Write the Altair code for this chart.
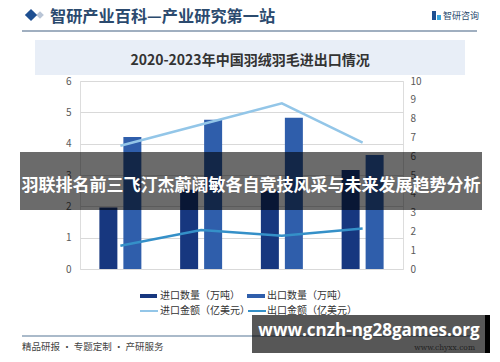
import altair as alt
import pandas as pd

# ---- data ----
years = ["2020年", "2021年", "2022年", "2023年"]
import_qty = [1.96, 2.53, 2.50, 3.16]      # 进口数量（万吨） left axis
export_qty = [4.21, 4.76, 4.83, 3.64]      # 出口数量（万吨） left axis
import_val = [6.56, 7.69, 8.81, 6.72]      # 进口金额（亿美元） right axis
export_val = [1.24, 2.07, 1.77, 2.16]      # 出口金额（亿美元） right axis
left_ticks = [0, 1, 2, 3, 4, 5, 6]
right_ticks = [0, 1, 2, 3, 4, 5, 6, 7, 8, 9, 10]
bar_series = ["进口数量（万吨）", "出口数量（万吨）"]
line_series = ["进口金额（亿美元）", "出口金额（亿美元）"]

FONT = "Noto Sans CJK SC"
C_IMP_Q, C_EXP_Q = "#17377f", "#2f5eab"
C_IMP_V, C_EXP_V = "#93c6e8", "#3590c8"

bars_df = pd.DataFrame({
    "year": years * 2,
    "series": [bar_series[0]] * 4 + [bar_series[1]] * 4,
    "value": import_qty + export_qty,
})
lines_df = pd.DataFrame({
    "year": years * 2,
    "series": [line_series[0]] * 4 + [line_series[1]] * 4,
    "value": import_val + export_val,
})

xscale = alt.Scale(domain=years, paddingInner=0.48, paddingOuter=0.24)
xaxis = alt.Axis(title=None, ticks=False, domain=True, domainColor="#d9d9d9",
                 labelFontSize=10.5, labelColor="#333333", labelPadding=8,
                 labelAngle=0, labelFont=FONT)

bars = alt.Chart(bars_df).mark_bar().encode(
    x=alt.X("year:N", scale=xscale, axis=xaxis, sort=years),
    xOffset=alt.XOffset("series:N", sort=bar_series,
                        scale=alt.Scale(paddingInner=0.25, paddingOuter=0)),
    y=alt.Y("value:Q", scale=alt.Scale(domain=[0, 6], nice=False),
            axis=alt.Axis(title=None, orient="left", values=left_ticks, grid=True,
                          gridColor="#d9d9d9", domain=False, ticks=False,
                          labelPadding=9, labelColor="#595959", labelFontSize=10)),
    color=alt.Color("series:N", scale=alt.Scale(domain=bar_series, range=[C_IMP_Q, C_EXP_Q]),
                    legend=None),
)

lines = alt.Chart(lines_df).mark_line(strokeWidth=2.5).encode(
    x=alt.X("year:N", scale=xscale, sort=years, axis=None),
    y=alt.Y("value:Q", scale=alt.Scale(domain=[0, 10], nice=False),
            axis=alt.Axis(title=None, orient="right", values=right_ticks, grid=False,
                          domain=False, ticks=False, labelPadding=7,
                          labelColor="#595959", labelFontSize=10)),
    color=alt.Color("series:N", scale=alt.Scale(domain=line_series, range=[C_IMP_V, C_EXP_V]),
                    legend=None),
)

one = pd.DataFrame({"k": [0]})


def rect(x, x2, y, y2, color, opacity=1.0):
    return alt.Chart(one).mark_rect(color=color, opacity=opacity).encode(
        x=alt.value(x), x2=alt.value(x2), y=alt.value(y), y2=alt.value(y2))


def rule(x, x2, y, color, width):
    return alt.Chart(one).mark_rule(color=color, strokeWidth=width).encode(
        x=alt.value(x), x2=alt.value(x2), y=alt.value(y))


def text(s, x, y, size, color, align="left", weight="normal", font=FONT):
    return alt.Chart(one).mark_text(text=s, align=align, baseline="middle",
                                    fontSize=size, color=color, fontWeight=weight,
                                    font=font).encode(x=alt.value(x), y=alt.value(y))


def diamond(x, y, size, color):
    return alt.Chart(one).mark_point(shape="diamond", filled=True, size=size,
                                     color=color, opacity=1).encode(
        x=alt.value(x), y=alt.value(y))


deco = [
    # header
    diamond(-40, -66, 60, "#b9c5d6"),
    diamond(-49, -66, 150, "#1e4f91"),
    text("智研产业百科—产业研究第一站", -30, -64, 16.2, "#2b4a6e", weight="bold"),
    rect(352, 356, -70, -61, "#1e4f91"),
    rect(357, 361, -66, -61, "#3aa6dc"),
    text("智研咨询", 363, -65, 9, "#2b4a6e"),
    rule(-58, 397, -50, "#8094ab", 1.5),
    # title box
    rect(-45, 385, -41, -6, "#e8eef7"),
    text("2020-2023年中国羽绒羽毛进出口情况", 170, -20, 14, "#333333",
         align="center", weight="bold"),
    # legend
    rect(60, 77, 213, 217, C_IMP_Q),
    text(bar_series[0], 80, 215, 10, "#333333"),
    rect(167, 185, 213, 217, C_EXP_Q),
    text(bar_series[1], 187, 215, 10, "#333333"),
    rule(60, 78, 230, C_IMP_V, 2),
    text(line_series[0], 80, 230, 10, "#333333"),
    rule(168, 186, 230, C_EXP_V, 2),
    text(line_series[1], 187, 230, 10, "#333333"),
    # footer
    rule(-58, 397, 255, "#8ea3b8", 1.5),
    text("精品研报 · 专题定制 · 产研服务", -58, 266, 9.5, "#444444"),
    text("www.chyxx.com", 395, 267, 7.5, "#666666", align="right", font="DejaVu Serif"),
    # overlay banner
    rect(-60, 402, 71, 129, "#000000", 0.58),
    text("羽联排名前三飞汀杰蔚阔敏各自竞技风采与未来发展趋势分析", 171, 105, 17,
         "#ffffff", align="center", weight="bold"),
    # overlay watermark box
    rect(172, 405, 234, 272, "#000000", 0.66),
    rect(405, 410, 234, 272, "#000000", 1.0),
    text("www.cnzh-ng28games.org", 289, 250, 17, "#ffffff", align="center",
         weight="bold", font="Open Sans"),
]

chart = alt.layer(bars, lines, *deco).resolve_scale(
    y="independent", color="independent"
).properties(
    width=323, height=188,
    autosize=alt.AutoSizeParams(type="none"),
    padding={"left": 72, "top": 73, "right": 89, "bottom": 85},
    background="#ffffff",
).configure_view(stroke=None).configure(font=FONT)

chart.save("out.html", embed_options={"renderer": "svg", "actions": False})
